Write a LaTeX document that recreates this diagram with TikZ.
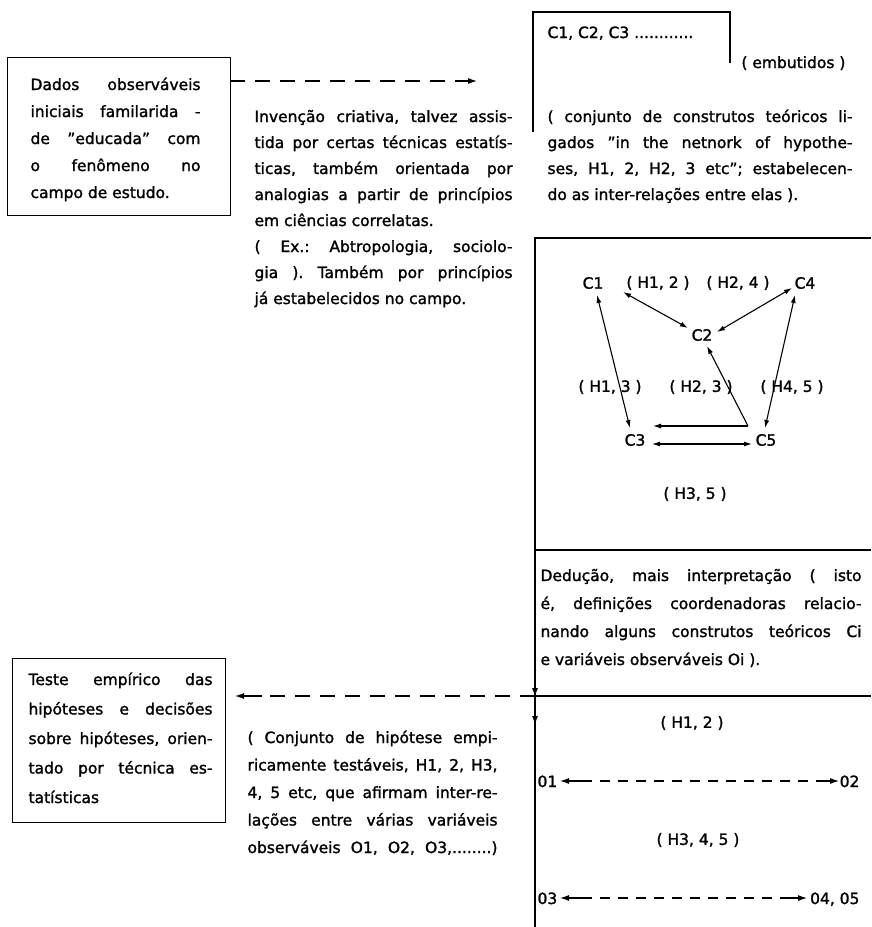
\documentclass[tikz,border=0pt]{standalone}
\usepackage{fontspec}
\setmainfont{DejaVu Sans}[FakeBold=1.5]
\usetikzlibrary{arrows.meta}
\newcommand\jline[1]{\hbox to \hsize{\spaceskip=0.3em plus 1fil minus 0.08em\relax #1}}
\newcommand\lline[1]{\hbox to \hsize{#1\hfil}}
\newcommand\colpar[3]{\parbox[t]{#1}{\frenchspacing\baselineskip=#2\relax #3}}
\begin{document}
\begin{tikzpicture}[x=1pt,y=-1pt, line width=1.1pt,
  txt/.style={inner sep=0pt, font=\fontsize{15.5pt}{26pt}\selectfont},
  boxnode/.style={draw, inner sep=0pt, anchor=north west},
  dsh/.style={dash pattern=on 15pt off 10pt},
  dshs/.style={dash pattern=on 10pt off 8pt},
  >={Latex[length=9pt,width=6pt]},
  net/.style={{Latex[length=8pt,width=5pt]}-{Latex[length=8pt,width=5pt]}},
  neta/.style={-{Latex[length=8pt,width=5pt]}}]
\useasboundingbox (0,0) rectangle (871,927);

% ---- box A
\node[boxnode, minimum width=223pt, minimum height=158pt] (A) at (7,57) {};
\node[txt, anchor=base west] (Atxt) at (30,90) {\colpar{170pt}{27pt}{%
\jline{Dados observáveis}%
\jline{iniciais familarida -}%
\jline{de ''educada'' com}%
\jline{o fenômeno no}%
\lline{campo de estudo.}}};

% ---- arrow A -> B
\coordinate (ar1s) at (230,81);
\coordinate (ar1m) at (455,81);
\coordinate (ar1e) at (477,81);
\draw[dsh] (ar1s) -- (ar1m);
\draw[->] (ar1m) -- (ar1e);

% ---- text B
\node[txt, anchor=base west] (B) at (254,122) {\colpar{258pt}{26pt}{%
\jline{Invenção criativa, talvez assis-}%
\jline{tida por certas técnicas estatís-}%
\jline{ticas, também orientada por}%
\jline{analogias a partir de princípios}%
\lline{em ciências correlatas.}%
\jline{( Ex.: Abtropologia, sociolo-}%
\jline{gia ). Também por princípios}%
\lline{já estabelecidos no campo.}}};

% ---- bracket C1, C2, C3
\coordinate (brR) at (730,63);
\coordinate (brTR) at (730,12);
\coordinate (brTL) at (533,12);
\coordinate (brL) at (533,132);
\draw (brR) -- (brTR) -- (brTL) -- (brL);
\node[txt, anchor=base west] (Clist) at (547,38) {C1, C2, C3 ............};
\node[txt, anchor=base east] (emb) at (846,68) {( embutidos )};
\node[txt, anchor=base west] (Cpar) at (547,122) {\colpar{305pt}{26pt}{%
\jline{( conjunto de construtos teóricos li-}%
\jline{gados ''in the netnork of hypothe-}%
\jline{ses, H1, 2, H2, 3 etc''; estabelecen-}%
\lline{do as inter-relações entre elas ).}}};

% ---- right box frame
\coordinate (rbTL) at (535,238);
\coordinate (rbTR) at (871,238);
\coordinate (rbBL) at (535,927);
\coordinate (d1L) at (535,550);
\coordinate (d1R) at (871,550);
\coordinate (d2L) at (535,696);
\coordinate (d2R) at (871,696);
\draw (rbTR) -- (rbTL) -- (rbBL);
\draw (d1L) -- (d1R);
\draw (d2L) -- (d2R);
\coordinate (v1a) at (535,680);
\coordinate (v1b) at (535,697);
\coordinate (v2a) at (535,708);
\coordinate (v2b) at (535,725);
\draw[->] (v1a) -- (v1b);
\draw[->] (v2a) -- (v2b);

% ---- network
\node[txt] (C1) at (593,283) {C1};
\node[txt] (H12) at (658,283) {( H1, 2 )};
\node[txt] (H24) at (738,283) {( H2, 4 )};
\node[txt] (C4) at (805,283) {C4};
\node[txt] (C2) at (702,335) {C2};
\node[txt] (H13) at (610,387) {( H1, 3 )};
\node[txt] (H23) at (701,387) {( H2, 3 )};
\node[txt] (H45) at (792,387) {( H4, 5 )};
\node[txt] (C3) at (635,440) {C3};
\node[txt] (C5) at (766,440) {C5};
\node[txt] (H35) at (695,494) {( H3, 5 )};
\coordinate (n12a) at (623,292);
\coordinate (n12b) at (688,328);
\coordinate (n42a) at (792,288);
\coordinate (n42b) at (717,332);
\coordinate (n13a) at (597,295);
\coordinate (n13b) at (630,428);
\coordinate (n45a) at (795,295);
\coordinate (n45b) at (765,428);
\coordinate (K) at (748,426);
\coordinate (k2) at (707,346);
\coordinate (k3) at (653,426);
\coordinate (n35a) at (652,444);
\coordinate (n35b) at (752,444);
\draw[net] (n12a) -- (n12b);
\draw[net] (n42a) -- (n42b);
\draw[net] (n13a) -- (n13b);
\draw[net] (n45a) -- (n45b);
\draw[neta] (K) -- (k2);
\draw[neta] (K) -- (k3);
\draw[net] (n35a) -- (n35b);

% ---- text D
\node[txt, anchor=base west] (D) at (540,581) {\colpar{321pt}{28pt}{%
\jline{Dedução, mais interpretação ( isto}%
\jline{é, definições coordenadoras relacio-}%
\jline{nando alguns construtos teóricos Ci}%
\lline{e variáveis observáveis Oi ).}}};

% ---- lower right
\node[txt] (H12b) at (692,723) {( H1, 2 )};
\node[txt, anchor=base west] (O1) at (537,787) {01};
\node[txt, anchor=base east] (O2) at (860,787) {02};
\coordinate (p1) at (560,781);
\coordinate (p2) at (582,781);
\coordinate (p3) at (816,781);
\coordinate (p4) at (839,781);
\draw[<-] (p1) -- (p2);
\draw[dshs] (p2) -- (p3);
\draw[->] (p3) -- (p4);
\node[txt] (H345) at (698,840) {( H3, 4, 5 )};
\node[txt, anchor=base west] (O3) at (537,904) {03};
\node[txt, anchor=base east] (O45) at (860,904) {04, 05};
\coordinate (q1) at (560,898);
\coordinate (q2) at (582,898);
\coordinate (q3) at (784,898);
\coordinate (q4) at (807,898);
\draw[<-] (q1) -- (q2);
\draw[dshs] (q2) -- (q3);
\draw[->] (q3) -- (q4);

% ---- box E
\node[boxnode, minimum width=213pt, minimum height=164pt] (E) at (12,658) {};
\node[txt, anchor=base west] (Etxt) at (28,685) {\colpar{184pt}{29.5pt}{%
\jline{Teste empírico das}%
\jline{hipóteses e decisões}%
\jline{sobre hipóteses, orien-}%
\jline{tado por técnica es-}%
\lline{tatísticas}}};
\coordinate (e1s) at (535,696);
\coordinate (e1m) at (262,696);
\coordinate (e1e) at (235,696);
\draw[dsh] (e1s) -- (e1m);
\draw[->] (e1m) -- (e1e);

% ---- text F
\node[txt, anchor=base west] (F) at (247,743) {\colpar{250pt}{27.5pt}{%
\jline{( Conjunto de hipótese empi-}%
\jline{ricamente testáveis, H1, 2, H3,}%
\jline{4, 5 etc, que afirmam inter-re-}%
\jline{lações entre várias variáveis}%
\jline{observáveis O1, O2, O3,........)}}};
\end{tikzpicture}
\end{document}
